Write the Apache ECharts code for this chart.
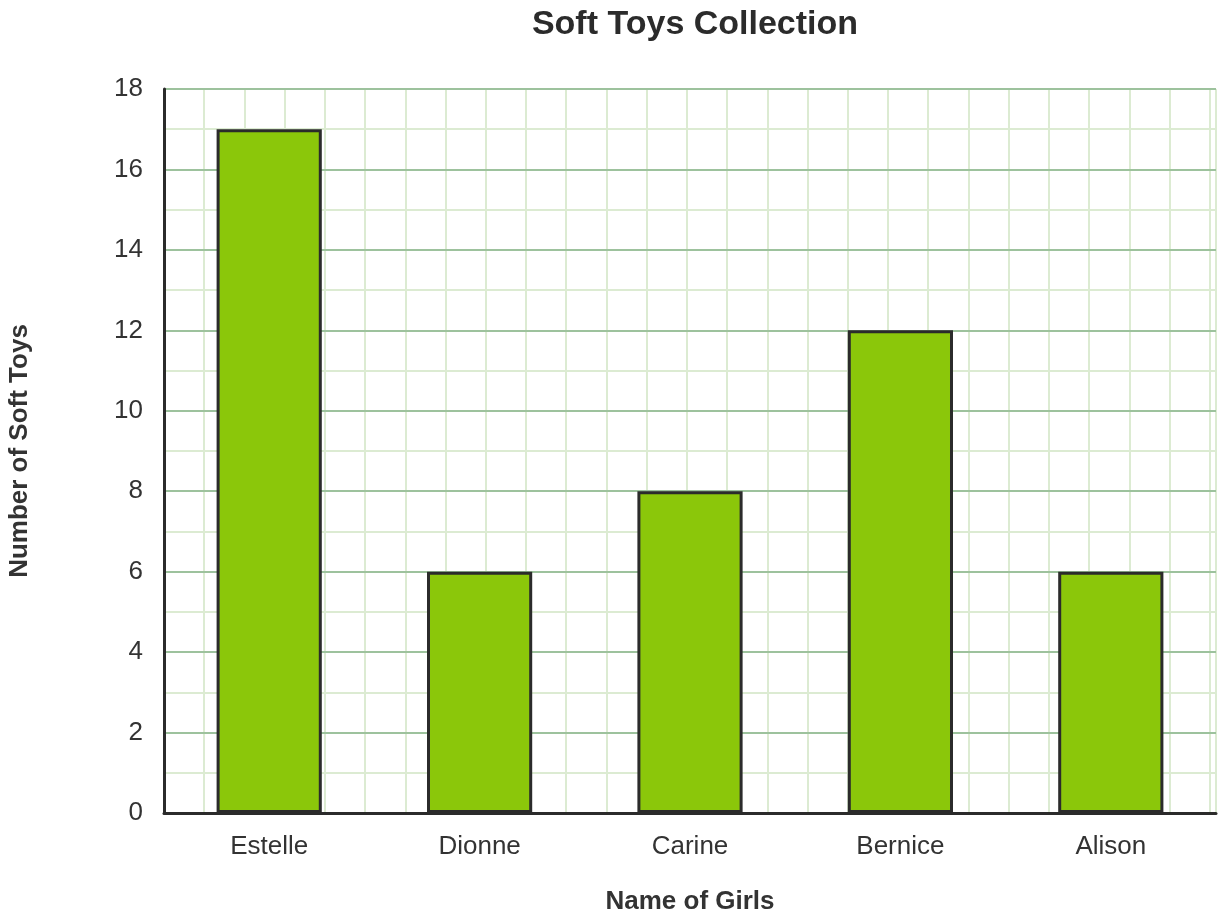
<!DOCTYPE html>
<html>
<head>
<meta charset="utf-8">
<script src="https://cdn.jsdelivr.net/npm/echarts@6/dist/echarts.min.js"></script>
<style>html,body{margin:0;padding:0;background:#fff}#c{width:1224px;height:917px}</style>
</head>
<body>
<div id="c"></div>
<script>
const categories = ['Estelle', 'Dionne', 'Carine', 'Bernice', 'Alison'];
const values = [17, 6, 8, 12, 6];
const yTicks = [0, 2, 4, 6, 8, 10, 12, 14, 16, 18];

const font = '"Liberation Sans", Arial, sans-serif';
const chart = echarts.init(document.getElementById('c'));
chart.setOption({
  animation: false,
  title: {
    text: 'Soft Toys Collection',
    left: 690, top: 3, textAlign: 'center',
    textStyle: { fontFamily: font, fontSize: 34, fontWeight: 'bold', color: '#2b2b2b' }
  },
  grid: { left: 164, right: 8, top: 89, bottom: 104, outerBoundsMode: 'none', containLabel: false },
  xAxis: [{
    type: 'category',
    data: categories,
    name: 'Name of Girls',
    nameLocation: 'middle',
    nameGap: 76,
    nameTextStyle: { fontFamily: font, fontSize: 26, fontWeight: 'bold', color: '#333' },
    axisLine: { lineStyle: { color: '#2b2b2b', width: 3 } },
    axisTick: { show: false },
    axisLabel: { fontFamily: font, fontSize: 26, color: '#333', margin: 21 },
    splitLine: { show: false },
    z: 1
  }, {
    type: 'value',
    min: 0, max: 1052 / 40.22, interval: 1,
    position: 'bottom',
    axisLine: { show: false }, axisTick: { show: false }, axisLabel: { show: false },
    splitLine: { show: true, lineStyle: { color: '#dcebd2', width: 2 } },
    z: 0
  }],
  yAxis: {
    type: 'value',
    min: 0, max: 18, interval: 2,
    name: 'Number of Soft Toys',
    nameLocation: 'middle',
    nameGap: 131,
    nameRotate: 90,
    nameTextStyle: { fontFamily: font, fontSize: 26, fontWeight: 'bold', color: '#333' },
    axisLine: { show: true, lineStyle: { color: '#2b2b2b', width: 3 } },
    axisTick: { show: false },
    minorTick: { show: false, splitNumber: 2 },
    axisLabel: { fontFamily: font, fontSize: 26, color: '#333', margin: 21, padding: [8, 0, 0, 0],
      formatter: v => yTicks.includes(v) ? String(v) : '' },
    splitLine: { show: true, lineStyle: { color: '#9dc29d', width: 2 } },
    minorSplitLine: { show: true, lineStyle: { color: '#dcebd2', width: 2 } },
    z: 1
  },
  series: [{
    type: 'bar',
    data: values,
    barWidth: '50%',
    itemStyle: { color: '#8bc70a', borderColor: '#2b2b2b', borderWidth: 3 },
    z: 3
  }]
});
</script>
</body>
</html>
